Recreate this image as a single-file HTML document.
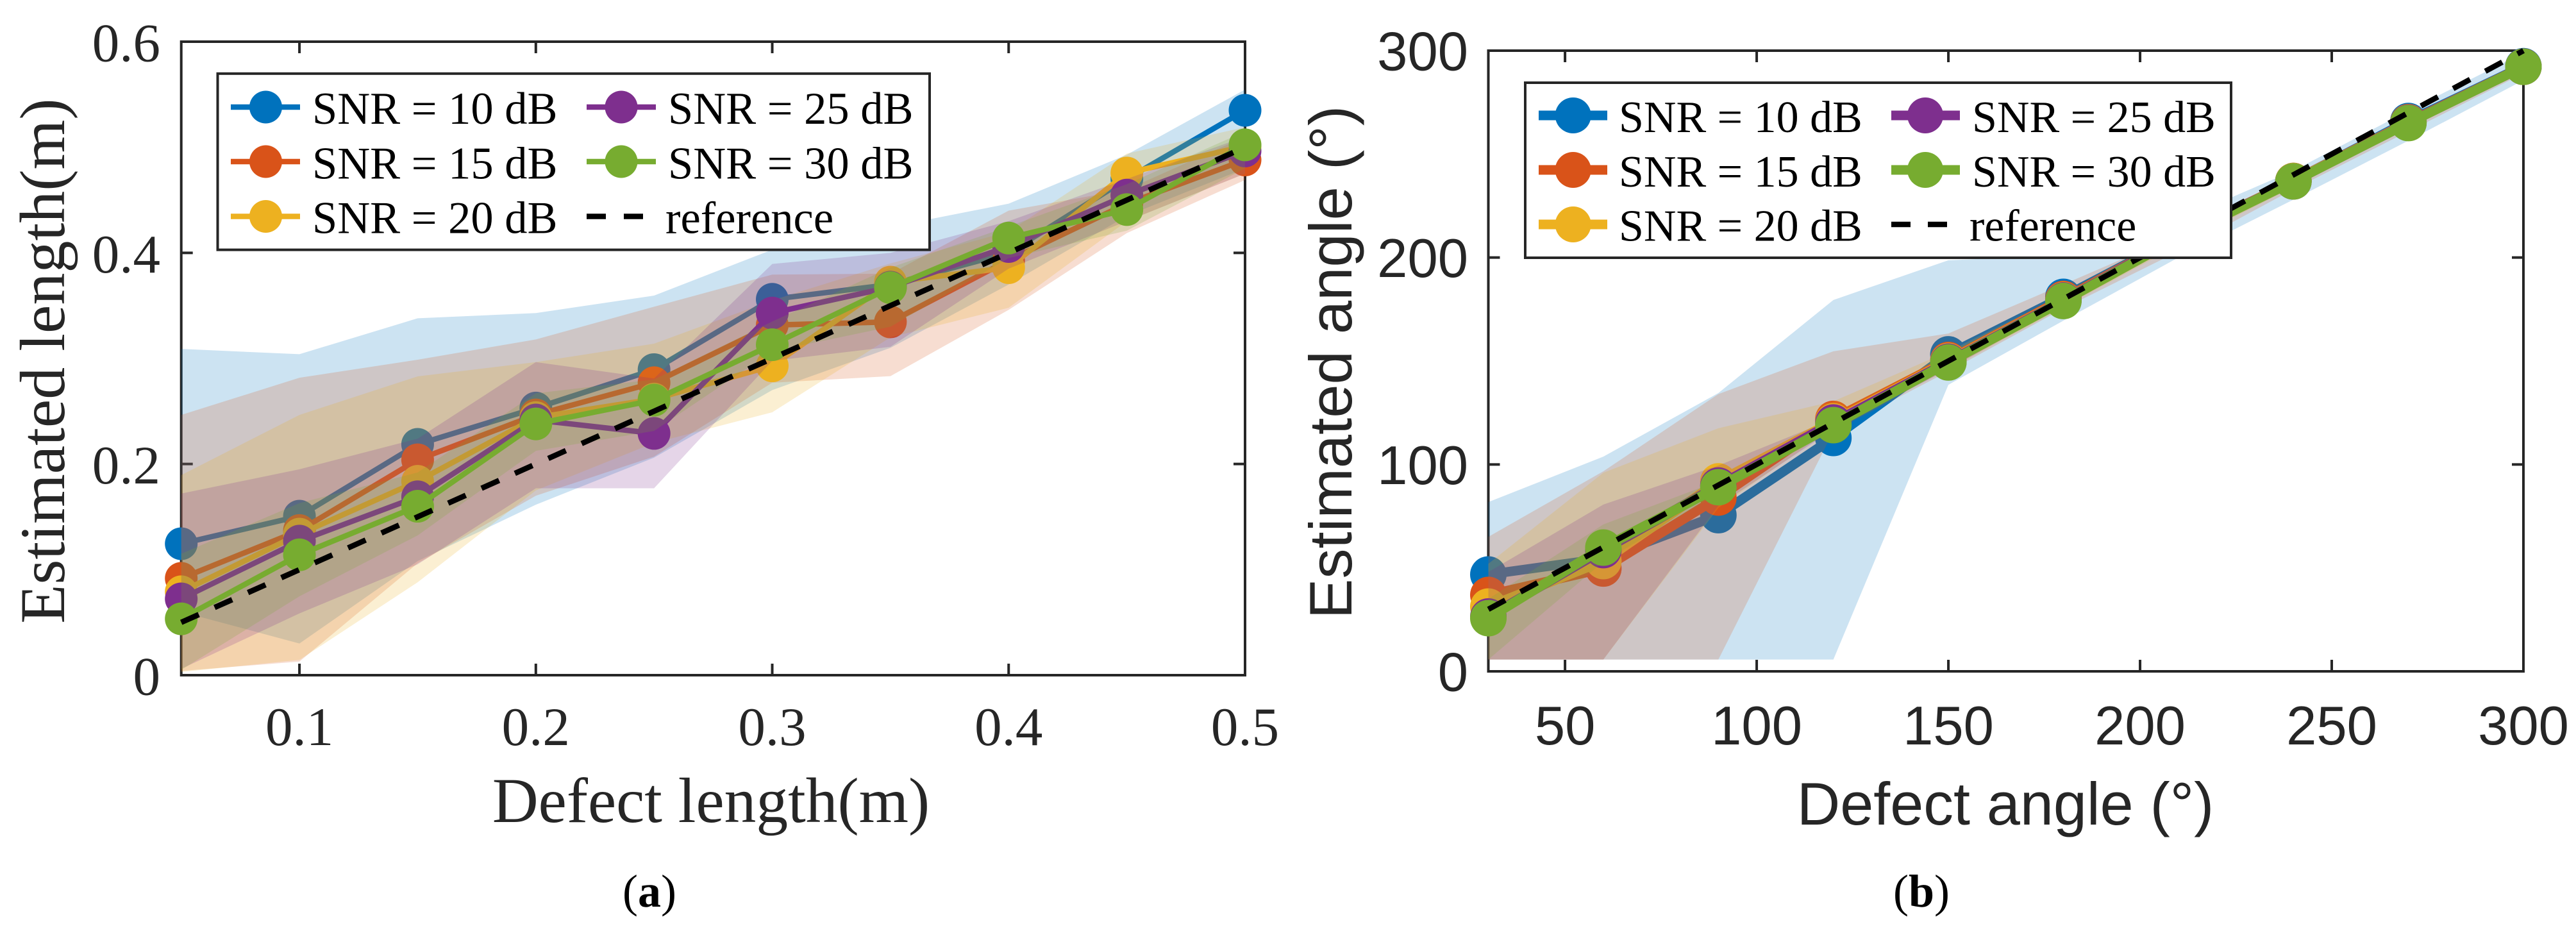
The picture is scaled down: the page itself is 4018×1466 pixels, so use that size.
<!DOCTYPE html>
<html lang="en">
<head>
<meta charset="utf-8">
<title>Estimated defect length and angle</title>
<style>
html,body{margin:0;padding:0;background:#fff}
svg{display:block}
.serif{font-family:"Liberation Serif",serif}
.sans{font-family:"Liberation Sans",sans-serif}
</style>
</head>
<body>
<svg xmlns="http://www.w3.org/2000/svg" width="4018" height="1466" viewBox="0 0 4018 1466">
  <rect width="4018" height="1466" fill="#fff"/>

  <g id="chart-a">
    <g id="axes-a"></g>
    <g id="marks-a"></g>
    <text class="serif" x="100" y="0" transform="translate(100 563) rotate(-90) translate(-100 0)" text-anchor="middle" font-size="100" fill="#262626">Estimated length(m)</text>
    <text class="serif" x="1109" y="1282" text-anchor="middle" font-size="99.5" fill="#262626">Defect length(m)</text>
    <g>
      <rect x="339.5" y="114.8" width="1110.5" height="274.8" fill="#fff" stroke="#262626" stroke-width="4"/>
      <g><path d="M360 167H468" stroke="#0072BD" stroke-width="8.5"/><circle cx="414.5" cy="167" r="25.5" fill="#0072BD"/><text class="serif" x="487" y="193" font-size="70.5" fill="#000">SNR = 10 dB</text></g>
      <g><path d="M360 252H468" stroke="#D95319" stroke-width="8.5"/><circle cx="414.5" cy="252" r="25.5" fill="#D95319"/><text class="serif" x="487" y="278.5" font-size="70.5" fill="#000">SNR = 15 dB</text></g>
      <g><path d="M360 337.5H468" stroke="#EDB120" stroke-width="8.5"/><circle cx="414.5" cy="337.5" r="25.5" fill="#EDB120"/><text class="serif" x="487" y="363.5" font-size="70.5" fill="#000">SNR = 20 dB</text></g>
      <g><path d="M915 167H1023" stroke="#7E2F8E" stroke-width="8.5"/><circle cx="969" cy="167" r="25.5" fill="#7E2F8E"/><text class="serif" x="1042" y="193" font-size="70.5" fill="#000">SNR = 25 dB</text></g>
      <g><path d="M915 252H1023" stroke="#77AC30" stroke-width="8.5"/><circle cx="969" cy="252" r="25.5" fill="#77AC30"/><text class="serif" x="1042" y="278.5" font-size="70.5" fill="#000">SNR = 30 dB</text></g>
      <g><path d="M915 337.5H1003" stroke="#000" stroke-width="8.5" stroke-dasharray="30 28"/><text class="serif" x="1038" y="363.5" font-size="70.5" fill="#000">reference</text></g>
    </g>
    <text class="serif" x="1013" y="1414" text-anchor="middle" font-size="72" fill="#000">(<tspan font-weight="bold">a</tspan>)</text>
  </g>

  <g id="chart-b">
    <g id="axes-b"></g>
    <g id="marks-b"></g>
    <text class="sans" x="0" y="0" transform="translate(2108 565) rotate(-90)" text-anchor="middle" font-size="94" fill="#262626">Estimated angle (°)</text>
    <text class="sans" x="3128" y="1286" text-anchor="middle" font-size="93.5" fill="#262626">Defect angle (°)</text>
    <g>
      <rect x="2379" y="129" width="1101" height="273" fill="#fff" stroke="#262626" stroke-width="4"/>
      <g><path d="M2400 180H2507" stroke="#0072BD" stroke-width="15"/><circle cx="2453.7" cy="180" r="28" fill="#0072BD"/><text class="serif" x="2525" y="206" font-size="70" fill="#000">SNR = 10 dB</text></g>
      <g><path d="M2400 265H2507" stroke="#D95319" stroke-width="15"/><circle cx="2453.7" cy="265" r="28" fill="#D95319"/><text class="serif" x="2525" y="291" font-size="70" fill="#000">SNR = 15 dB</text></g>
      <g><path d="M2400 350H2507" stroke="#EDB120" stroke-width="15"/><circle cx="2453.7" cy="350" r="28" fill="#EDB120"/><text class="serif" x="2525" y="375.5" font-size="70" fill="#000">SNR = 20 dB</text></g>
      <g><path d="M2950 180H3057" stroke="#7E2F8E" stroke-width="15"/><circle cx="3003" cy="180" r="28" fill="#7E2F8E"/><text class="serif" x="3076" y="206" font-size="70" fill="#000">SNR = 25 dB</text></g>
      <g><path d="M2950 265H3057" stroke="#77AC30" stroke-width="15"/><circle cx="3003" cy="265" r="28" fill="#77AC30"/><text class="serif" x="3076" y="291" font-size="70" fill="#000">SNR = 30 dB</text></g>
      <g><path d="M2950 350H3037" stroke="#000" stroke-width="8.5" stroke-dasharray="30 27"/><text class="serif" x="3072" y="375.5" font-size="70" fill="#000">reference</text></g>
    </g>
    <text class="serif" x="2997" y="1414" text-anchor="middle" font-size="72" fill="#000">(<tspan font-weight="bold">b</tspan>)</text>
  </g>
</svg>

<script>
// ---- Panel (a): defect length ----
const lengthCategories = [0.05,0.10,0.15,0.20,0.25,0.30,0.35,0.40,0.45,0.50];
const lengthXTicks = [0.1,0.2,0.3,0.4,0.5];
const lengthXTickLabels = ['0.1','0.2','0.3','0.4','0.5'];
const lengthYTicks = [0,0.2,0.4,0.6];
const lengthYTickLabels = ['0','0.2','0.4','0.6'];
const lengthSnr10 = [0.1245,0.1506,0.2186,0.253,0.2894,0.356,0.370,0.400,0.470,0.535];
const lengthSnr15 = [0.0917,0.137,0.204,0.2465,0.277,0.3316,0.3346,0.393,0.4466,0.488];
const lengthSnr20 = [0.079,0.1336,0.1836,0.244,0.2615,0.293,0.3723,0.386,0.4756,0.501];
const lengthSnr25 = [0.0723,0.127,0.169,0.2417,0.229,0.343,0.3675,0.406,0.4547,0.4965];
const lengthSnr30 = [0.0534,0.114,0.160,0.238,0.2605,0.313,0.367,0.414,0.441,0.5023];
const lengthUpper10 = [0.309,0.304,0.338,0.343,0.3595,0.403,0.4245,0.4466,0.493,0.5547];
const lengthLower10 = [0.06,0.03,0.108,0.1615,0.206,0.27,0.31,0.37,0.435,0.48];
const lengthUpper15 = [0.2465,0.2817,0.2988,0.318,0.349,0.3794,0.3803,0.44,0.46,0.51];
const lengthLower15 = [0.004,0.0129,0.106,0.17,0.207,0.277,0.2832,0.346,0.4187,0.469];
const lengthUpper20 = [0.1895,0.2465,0.283,0.2965,0.314,0.355,0.39,0.42,0.494,0.519];
const lengthLower20 = [0.003,0.0145,0.088,0.175,0.22,0.249,0.32,0.348,0.43,0.475];
const lengthUpper25 = [0.172,0.195,0.224,0.2965,0.281,0.3895,0.40,0.43,0.47,0.51];
const lengthLower25 = [0.006,0.0585,0.105,0.177,0.177,0.2977,0.311,0.385,0.43,0.475];
const lengthUpper30 = [0.115,0.163,0.192,0.267,0.28,0.335,0.386,0.425,0.465,0.515];
const lengthLower30 = [0.005,0.0747,0.1324,0.2125,0.2313,0.3067,0.33,0.395,0.421,0.48];
const lengthReference = [0.05,0.10,0.15,0.20,0.25,0.30,0.35,0.40,0.45,0.50];

// ---- Panel (b): defect angle ----
const angleCategories = [30,60,90,120,150,180,210,240,270,300];
const angleXTicks = [50,100,150,200,250,300];
const angleXTickLabels = ['50','100','150','200','250','300'];
const angleYTicks = [0,100,200,300];
const angleYTickLabels = ['0','100','200','300'];
const angleSnr10 = [46.8,54.5,75.5,112.8,153.2,181,210,237,266,292.5];
const angleSnr15 = [36.9,49.7,84,122,150.5,180,210,237,265.5,292.3];
const angleSnr20 = [31.3,53.3,91.8,120.8,150,179.5,210,237,265.3,292.2];
const angleSnr25 = [26.5,58.6,89.8,120.3,149.7,179.3,210,236.8,265.2,292.2];
const angleSnr30 = [25.7,59.8,89,119,149.3,179,209.5,236.8,265,292.2];
const angleUpper10 = [81.8,103.8,134.5,179.5,198.7,201,218,242,271,299];
const angleLower10 = [5.7,5.7,5.7,5.7,138.5,169.5,200,228,256.5,285.7];
const angleUpper15 = [65,96.7,134,154.7,163.3,187,211,240,268,295];
const angleLower15 = [5.7,5.7,5.7,116,145,175.4,203,233,261,289];
const angleUpper20 = [52,96,117.5,130.5,154.6,182,209,239,267,294];
const angleLower20 = [5.7,5.7,79,118,146,176,206,234,263,290];
const angleUpper25 = [48,80.6,99.5,122,152,181,209,238,266,293];
const angleLower25 = [5.7,5.7,80,117,146,177,207,235,264,291];
const angleUpper30 = [35,71,92,121,151,180,209,238,266,293];
const angleLower30 = [5.7,53,86,117,147,178,208,235,264,291];
const angleReference = [30,60,90,120,150,180,210,240,270,300];

const seriesColors = ['#0072BD','#D95319','#EDB120','#7E2F8E','#77AC30'];
const seriesNames = ['snr-10','snr-15','snr-20','snr-25','snr-30'];

const SVGNS = 'http://www.w3.org/2000/svg';
function make(parent, tag, attrs) {
  const el = document.createElementNS(SVGNS, tag);
  for (const k in attrs) el.setAttribute(k, attrs[k]);
  parent.appendChild(el);
  return el;
}

function drawChart(o) {
  const x = v => o.left + (v - o.xMin) / (o.xMax - o.xMin) * (o.right - o.left);
  const y = v => o.bottom - (v - o.yMin) / (o.yMax - o.yMin) * (o.bottom - o.top);
  const axes = document.getElementById(o.axesId);
  const marks = document.getElementById(o.marksId);

  const frame = make(axes, 'rect', {x:o.left, y:o.top, width:o.right-o.left, height:o.bottom-o.top, fill:'none', stroke:'#262626', 'stroke-width':4});
  
  

  o.xTicks.forEach((t, i) => {
    const px = x(t);
    const tick = make(axes, 'path', {d:`M${px} ${o.bottom}V${o.bottom-18}M${px} ${o.top}V${o.top+18}`, stroke:'#262626', 'stroke-width':4, fill:'none'});
    
    
    const label = make(axes, 'text', {x:px, y:o.xLabelY, 'text-anchor':'middle', 'font-size':85, fill:'#262626', 'class':o.fontClass});
    label.textContent = o.xTickLabels[i];
    
    
  });

  o.yTicks.forEach((t, i) => {
    const py = y(t);
    const tick = make(axes, 'path', {d:`M${o.left} ${py}H${o.left+18}M${o.right} ${py}H${o.right-18}`, stroke:'#262626', 'stroke-width':4, fill:'none'});
    
    
    const label = make(axes, 'text', {x:o.yLabelX, y:py+30.5, 'text-anchor':'end', 'font-size':85, fill:'#262626', 'class':o.fontClass});
    label.textContent = o.yTickLabels[i];
    
    
  });

  o.means.forEach((values, s) => {
    const upper = o.uppers[s].map((v, i) => `${x(o.categories[i])},${y(v)}`);
    const lower = o.lowers[s].map((v, i) => `${x(o.categories[i])},${y(v)}`).reverse();
    const band = make(marks, 'polygon', {points:upper.concat(lower).join(' '), fill:seriesColors[s], 'fill-opacity':0.2});
    
    

    const pts = values.map((v, i) => `${x(o.categories[i])},${y(v)}`).join(' ');
    const line = make(marks, 'polyline', {points:pts, fill:'none', stroke:seriesColors[s], 'stroke-width':o.lineWidth, 'stroke-linejoin':'round'});
    
    

    values.forEach((v, i) => {
      const pt = make(marks, 'circle', {cx:x(o.categories[i]), cy:y(v), r:o.markerRadius, fill:seriesColors[s]});
      
      
    });
  });

  const refPts = o.reference.map((v, i) => `${x(o.categories[i])},${y(v)}`).join(' ');
  const ref = make(marks, 'polyline', {points:refPts, fill:'none', stroke:'#000', 'stroke-width':8.5, 'stroke-dasharray':'30 27'});
  
  
}

drawChart({
  axesId:'axes-a', marksId:'marks-a', fontClass:'serif',
  left:282.7, right:1942, top:65, bottom:1053,
  xMin:0.05, xMax:0.5, yMin:0, yMax:0.6,
  xLabelY:1162, yLabelX:250,
  lineWidth:8.5, markerRadius:25.5,
  categories:lengthCategories,
  xTicks:lengthXTicks, xTickLabels:lengthXTickLabels,
  yTicks:lengthYTicks, yTickLabels:lengthYTickLabels,
  means:[lengthSnr10,lengthSnr15,lengthSnr20,lengthSnr25,lengthSnr30],
  uppers:[lengthUpper10,lengthUpper15,lengthUpper20,lengthUpper25,lengthUpper30],
  lowers:[lengthLower10,lengthLower15,lengthLower20,lengthLower25,lengthLower30],
  reference:lengthReference
});

drawChart({
  axesId:'axes-b', marksId:'marks-b', fontClass:'sans',
  left:2321.5, right:3936, top:79, bottom:1047,
  xMin:30, xMax:300, yMin:0, yMax:300,
  xLabelY:1161, yLabelX:2290,
  lineWidth:15, markerRadius:28.5,
  categories:angleCategories,
  xTicks:angleXTicks, xTickLabels:angleXTickLabels,
  yTicks:angleYTicks, yTickLabels:angleYTickLabels,
  means:[angleSnr10,angleSnr15,angleSnr20,angleSnr25,angleSnr30],
  uppers:[angleUpper10,angleUpper15,angleUpper20,angleUpper25,angleUpper30],
  lowers:[angleLower10,angleLower15,angleLower20,angleLower25,angleLower30],
  reference:angleReference
});
</script>
</body>
</html>
